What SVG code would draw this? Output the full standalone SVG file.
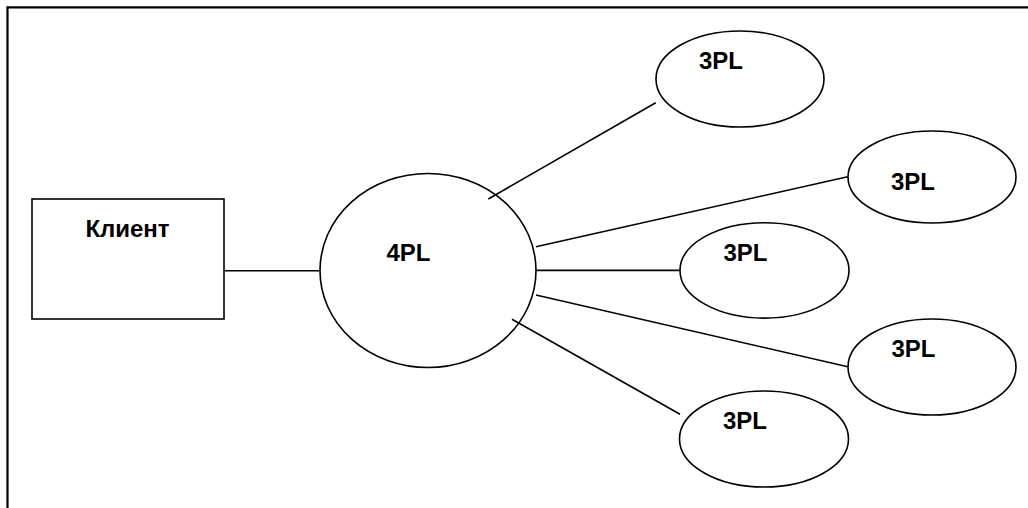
<svg xmlns="http://www.w3.org/2000/svg" width="1028" height="508" viewBox="0 0 1028 508">
<style>
.frame{fill:none;stroke:#000;stroke-width:2.2}
.shape{fill:#fff;stroke:#000;stroke-width:1.6}
.conn{stroke:#000;stroke-width:1.6;fill:none}
.lbl{font-family:"Liberation Sans",Arial,sans-serif;font-weight:bold;font-size:24px;fill:#000}
</style>
<rect width="1028" height="508" fill="#fff"/>
<path class="frame" d="M7.5,508 V7.3 H1028"/>
<g id="connectors">
<line class="conn" x1="224" y1="270.7" x2="320" y2="270.7"/>
<line class="conn" x1="488.3" y1="199" x2="655.7" y2="102.7"/>
<line class="conn" x1="536" y1="246.7" x2="847.7" y2="176.7"/>
<line class="conn" x1="536" y1="270.4" x2="680" y2="270.4"/>
<line class="conn" x1="536" y1="295" x2="847.7" y2="366.7"/>
<line class="conn" x1="512" y1="319.3" x2="680" y2="414.3"/>
</g>
<g id="client">
<rect class="shape" x="32" y="199" width="192" height="120"/>
<text class="lbl" x="127.5" y="237" text-anchor="middle">Клиент</text>
</g>
<g id="n4pl">
<ellipse class="shape" cx="428" cy="270.5" rx="108" ry="97" style="fill:none"/>
<text class="lbl" x="408.5" y="261" text-anchor="middle">4PL</text>
</g>
<g id="p1">
<ellipse class="shape" cx="740" cy="79" rx="84" ry="48"/>
<text class="lbl" x="721" y="69" text-anchor="middle">3PL</text>
</g>
<g id="p2">
<ellipse class="shape" cx="932" cy="177" rx="84" ry="46"/>
<text class="lbl" x="913" y="189.5" text-anchor="middle">3PL</text>
</g>
<g id="p3">
<ellipse class="shape" cx="764.5" cy="270.4" rx="84.5" ry="47.7"/>
<text class="lbl" x="745.5" y="261" text-anchor="middle">3PL</text>
</g>
<g id="p4">
<ellipse class="shape" cx="932" cy="367" rx="84" ry="48"/>
<text class="lbl" x="913.5" y="357" text-anchor="middle">3PL</text>
</g>
<g id="p5">
<ellipse class="shape" cx="764" cy="439" rx="84.5" ry="48"/>
<text class="lbl" x="745" y="428.5" text-anchor="middle">3PL</text>
</g>
</svg>
